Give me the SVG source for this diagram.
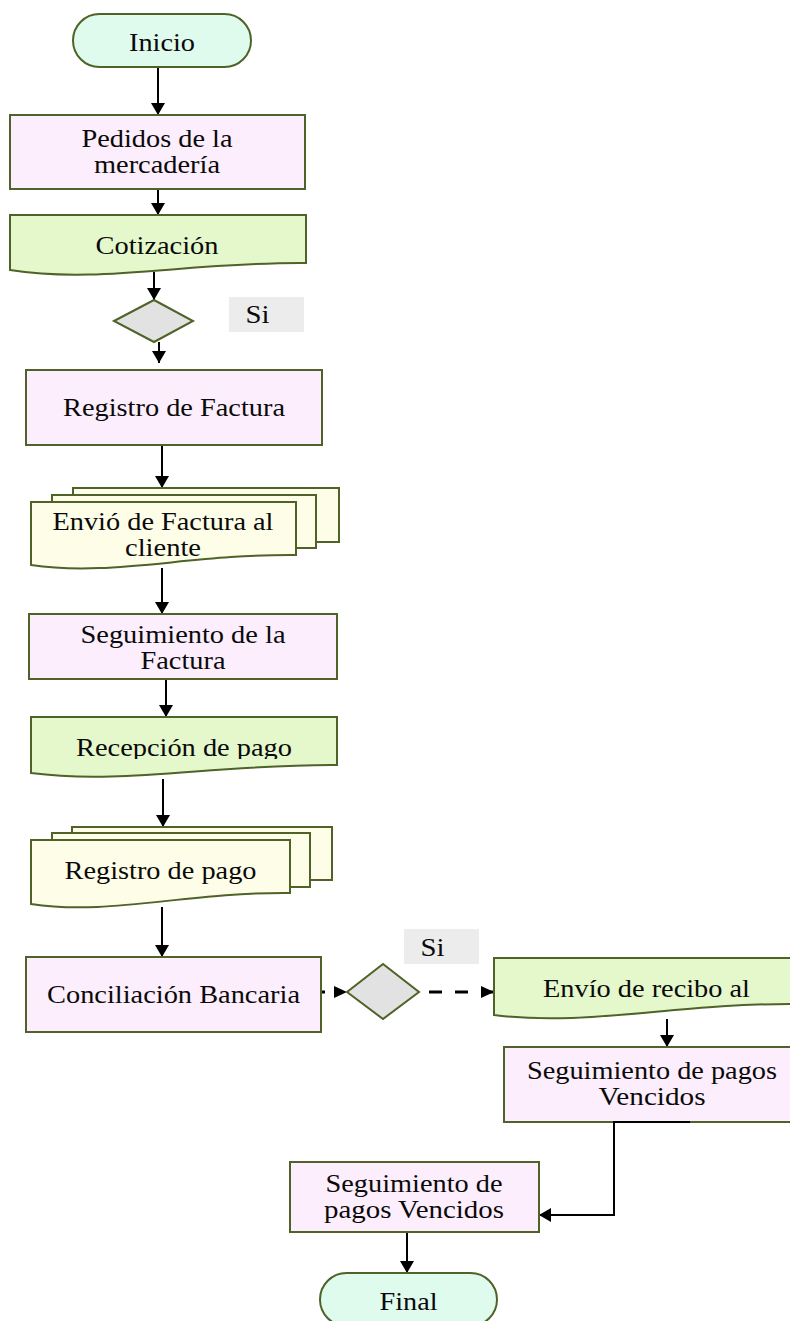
<svg xmlns="http://www.w3.org/2000/svg" width="790" height="1321" viewBox="0 0 790 1321">
<style>
.t{font-family:'Liberation Serif','Times New Roman',Tinos,serif;font-size:25px;fill:#0a0a0a;text-anchor:middle}
.term{fill:#dffbee;stroke:#4f6228;stroke-width:2}
.proc{fill:#fdeefd;stroke:#4f6228;stroke-width:2}
.doc{fill:#e5f8cc;stroke:#4f6228;stroke-width:2}
.mdoc{fill:#fefee8;stroke:#4f6228;stroke-width:2}
.dec{fill:#e2e2e2;stroke:#4f6228;stroke-width:2}
.lbl{fill:#ececec}
.c{fill:none;stroke:#000;stroke-width:2;marker-end:url(#ah)}
.cd{fill:none;stroke:#000;stroke-width:3;marker-end:url(#ah2)}
</style>
<defs>
<marker id="ah" markerUnits="userSpaceOnUse" markerWidth="14" markerHeight="14" refX="12" refY="7" orient="auto"><path d="M0,0 L12,7 L0,14 z" fill="#000"/></marker>
<marker id="ah2" markerUnits="userSpaceOnUse" markerWidth="14" markerHeight="12" refX="13" refY="6" orient="auto"><path d="M0,0 L13,6 L0,12 z" fill="#000"/></marker>
<clipPath id="recClip"><rect x="0" y="700" width="400" height="59"/></clipPath>
</defs>
<rect width="790" height="1321" fill="#fff"/>

<g id="connectors">
<line class="c" x1="158" y1="67" x2="158" y2="115"/>
<line class="c" x1="158" y1="189" x2="158" y2="215"/>
<line class="c" x1="154" y1="272" x2="154" y2="300"/>
<line class="c" x1="159" y1="342" x2="159" y2="363"/>
<line class="c" x1="162" y1="445" x2="162" y2="488"/>
<line class="c" x1="162" y1="568" x2="162" y2="614"/>
<line class="c" x1="166" y1="679" x2="166" y2="717"/>
<line class="c" x1="163" y1="779" x2="163" y2="827"/>
<line class="c" x1="162" y1="907" x2="162" y2="957"/>
<line class="cd" x1="321" y1="992" x2="347" y2="992" stroke-dasharray="4 10"/>
<line class="cd" x1="429" y1="992" x2="494" y2="992" stroke-dasharray="13 13"/>
<line class="c" x1="667" y1="1019" x2="667" y2="1047"/>
<line class="c" x1="407" y1="1232" x2="407" y2="1273"/>
</g>

<g id="inicio">
<rect class="term" x="73" y="14" width="178" height="53" rx="26.5"/>
<text class="t" font-family="Liberation Serif, serif" x="162" y="51" textLength="66" lengthAdjust="spacingAndGlyphs">Inicio</text>
</g>

<g id="pedidos">
<rect class="proc" x="10" y="115" width="295" height="74"/>
<text class="t" font-family="Liberation Serif, serif" x="157" y="147" textLength="151" lengthAdjust="spacingAndGlyphs">Pedidos de la</text>
<text class="t" font-family="Liberation Serif, serif" x="157" y="173" textLength="126" lengthAdjust="spacingAndGlyphs">mercadería</text>
</g>

<g id="cotizacion">
<path class="doc" d="M10,215 H306 V263 C187.6,262 98.8,284 10,270 Z"/>
<text class="t" font-family="Liberation Serif, serif" x="157" y="254" textLength="123" lengthAdjust="spacingAndGlyphs">Cotización</text>
</g>

<g id="decision1">
<polygon class="dec" points="114,321 154,300 193,321 154,342"/>
</g>

<g id="si1">
<rect class="lbl" x="229" y="297" width="75" height="35"/>
<text class="t" font-family="Liberation Serif, serif" x="257.5" y="323" textLength="24" lengthAdjust="spacingAndGlyphs">Si</text>
</g>

<g id="registro-factura">
<rect class="proc" x="26" y="370" width="296" height="75"/>
<text class="t" font-family="Liberation Serif, serif" x="174" y="416" textLength="222" lengthAdjust="spacingAndGlyphs">Registro de Factura</text>
</g>

<g id="envio-factura">
<rect class="mdoc" x="73" y="488" width="266" height="54"/>
<rect class="mdoc" x="52" y="495" width="264" height="53"/>
<path class="mdoc" d="M31,502 H296 V555 C190,554 110.5,577 31,565 Z"/>
<text class="t" font-family="Liberation Serif, serif" x="163" y="530" textLength="221" lengthAdjust="spacingAndGlyphs">Envió de Factura al</text>
<text class="t" font-family="Liberation Serif, serif" x="163" y="556" textLength="76" lengthAdjust="spacingAndGlyphs">cliente</text>
</g>

<g id="seguimiento-factura">
<rect class="proc" x="29" y="614" width="308" height="65"/>
<text class="t" font-family="Liberation Serif, serif" x="183" y="643" textLength="205" lengthAdjust="spacingAndGlyphs">Seguimiento de la</text>
<text class="t" font-family="Liberation Serif, serif" x="183" y="669" textLength="85" lengthAdjust="spacingAndGlyphs">Factura</text>
</g>

<g id="recepcion-pago">
<path class="doc" d="M31,717 H337 V765 C214.6,764 122.8,785 31,773 Z"/>
<text class="t" font-family="Liberation Serif, serif" x="184" y="756" textLength="216" lengthAdjust="spacingAndGlyphs" clip-path="url(#recClip)">Recepción de pago</text>
</g>

<g id="registro-pago">
<rect class="mdoc" x="72" y="827" width="260" height="53"/>
<rect class="mdoc" x="52" y="833" width="258" height="54"/>
<path class="mdoc" d="M31,840 H290 V893 C186.4,892 108.7,916 31,904 Z"/>
<text class="t" font-family="Liberation Serif, serif" x="160.5" y="879" textLength="192" lengthAdjust="spacingAndGlyphs">Registro de pago</text>
</g>

<g id="conciliacion">
<rect class="proc" x="26" y="957" width="295" height="75"/>
<text class="t" font-family="Liberation Serif, serif" x="173.5" y="1003" textLength="253" lengthAdjust="spacingAndGlyphs">Conciliación Bancaria</text>
</g>

<g id="decision2">
<polygon class="dec" points="347,992 383,964 419,992 383,1019"/>
</g>

<g id="si2">
<rect class="lbl" x="404" y="929" width="75" height="35"/>
<text class="t" font-family="Liberation Serif, serif" x="432.5" y="956" textLength="24" lengthAdjust="spacingAndGlyphs">Si</text>
</g>

<g id="envio-recibo">
<path class="doc" d="M494,958 H798 V1004 C676,1003 585,1027 494,1015 Z"/>
<text class="t" font-family="Liberation Serif, serif" x="646.5" y="997" textLength="207" lengthAdjust="spacingAndGlyphs">Envío de recibo al</text>
</g>

<g id="seguimiento-pagos-1">
<rect class="proc" x="504" y="1047" width="296" height="75"/>
<text class="t" font-family="Liberation Serif, serif" x="652" y="1079" textLength="250" lengthAdjust="spacingAndGlyphs">Seguimiento de pagos</text>
<text class="t" font-family="Liberation Serif, serif" x="652" y="1105" textLength="107" lengthAdjust="spacingAndGlyphs">Vencidos</text>
</g>

<g id="connector-return">
<path class="c" d="M690,1122 H614 V1215 H539"/>
</g>

<g id="seguimiento-pagos-2">
<rect class="proc" x="290" y="1162" width="249" height="70"/>
<text class="t" font-family="Liberation Serif, serif" x="414" y="1192" textLength="177" lengthAdjust="spacingAndGlyphs">Seguimiento de</text>
<text class="t" font-family="Liberation Serif, serif" x="414" y="1218" textLength="180" lengthAdjust="spacingAndGlyphs">pagos Vencidos</text>
</g>

<g id="final">
<rect class="term" x="320" y="1273" width="177" height="53" rx="26.5"/>
<text class="t" font-family="Liberation Serif, serif" x="408.5" y="1310" textLength="58" lengthAdjust="spacingAndGlyphs">Final</text>
</g>
</svg>
